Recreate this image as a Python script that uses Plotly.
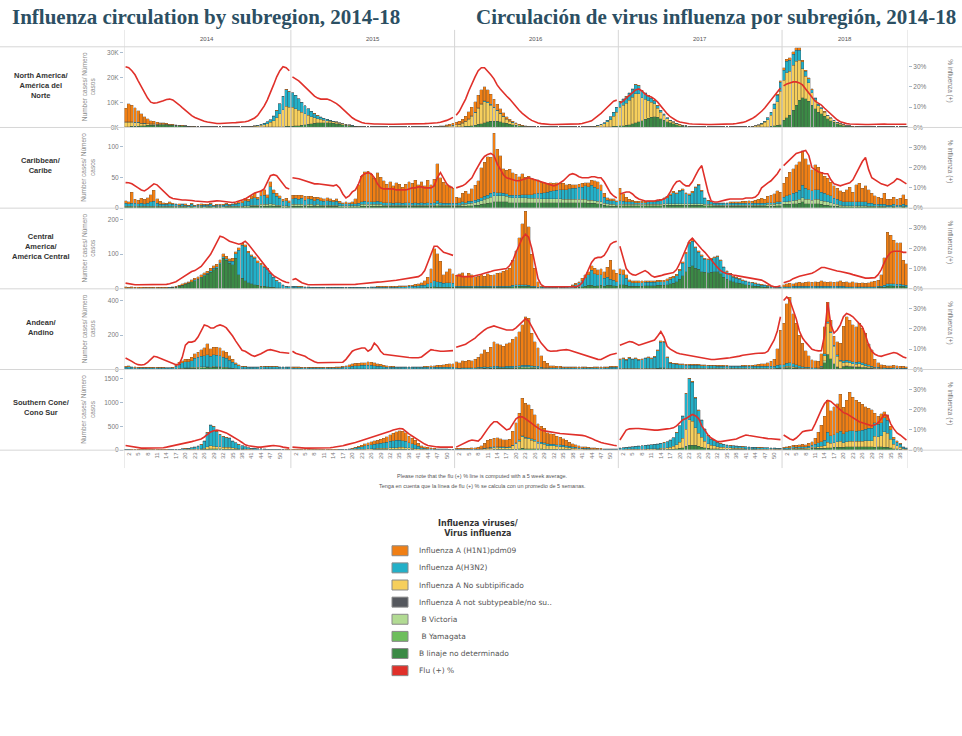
import plotly.graph_objects as go
from plotly.subplots import make_subplots

W, H = 962, 736

years = ["2014", "2015", "2016", "2017", "2018"]
weeks_per_year = [53, 52, 52, 52, 40]

region_labels = [
    "North America/<br>América del<br>Norte",
    "Caribbean/<br>Caribe",
    "Central<br>America/<br>América Central",
    "Andean/<br>Andino",
    "Southern Cone/<br>Cono Sur",
]

virus_labels = [
    "Influenza A (H1N1)pdm09",
    "Influenza A(H3N2)",
    "Influenza A No subtipificado",
    "Influenza A not subtypeable/no su..",
    " B Victoria",
    " B Yamagata",
    "B linaje no determinado",
    "Flu (+) %",
]

# ---------------- North America (thousands of cases) ----------------
na_h1n1 = [
    5.5,7.2,6.6,5.8,4.8,3.8,2.8,2.0,1.4,1.0, 0.7,0.5,0.4,0.3,0.2,0.2,0.1,0.1,0.1,0.1,
    0,0,0,0,0,0,0,0,0,0, 0,0,0,0,0,0,0,0,0,0, 0,0,0,0,0,0,0,0.1,0.1,0.1, 0.1,0.1,0.1,
    0.1,0.1,0.1,0.1,0.1,0.1,0.1,0.1,0.1,0.1, 0,0,0,0,0,0,0,0,0,0,
    0,0,0,0,0,0,0,0,0,0, 0,0,0,0,0,0,0,0,0,0, 0,0,0,0,0,0,0,0.2,0.3,0.4, 0.6,0.8,
    0.9,1.2,1.6,2.1,2.8,3.5,4.3,5.0,5.5,5.6, 4.8,3.9,3.1,2.4,1.8,1.3,0.9,0.6,0.4,0.3,
    0.2,0.1,0.1,0,0,0,0,0,0,0, 0,0,0,0,0,0,0,0,0,0, 0,0,0,0,0,0,0,0,0,0.1, 0.1,0.1,
    0.2,0.2,0.2,0.2,0.2,0.2,0.2,0.2,0.2,0.2, 0.1,0.1,0.1,0.1,0.1,0.1,0.1,0.1,0.1,0.1,
    0,0,0,0,0,0,0,0,0,0, 0,0,0,0,0,0,0,0,0,0, 0,0,0,0,0,0,0,0,0,0.3, 0.4,0.6,
    1.0,1.0,1.0,1.0,1.0,1.0,0.7,0.5,0.5,0.4, 0.3,0.2,0.1,0.1,0.1,0,0,0,0,0,
    0,0,0,0,0,0,0,0,0,0, 0,0,0,0,0,0,0,0,0,0,
]
na_h3n2 = [
    0.2,0.2,0.2,0.2,0.2,0.1,0.1,0.1,0.1,0.1, 0.1,0.1,0.1,0.1,0,0,0,0,0,0,
    0,0,0,0,0,0,0,0,0,0, 0,0,0,0,0,0,0,0,0,0, 0.1,0.2,0.3,0.4,0.6,0.8,1.2,1.8,2.8,4.0, 5.4,6.6,6.2,
    5.8,5.3,4.6,3.9,3.2,2.6,2.1,1.6,1.2,0.9, 0.7,0.5,0.4,0.3,0.2,0.2,0.1,0.1,0.1,0.1,
    0,0,0,0,0,0,0,0,0,0, 0,0,0,0,0,0,0,0,0,0, 0,0,0,0,0,0,0,0,0,0.1, 0.1,0.1,
    0.1,0.1,0.1,0.1,0.2,0.2,0.2,0.3,0.3,0.4, 0.4,0.4,0.3,0.3,0.2,0.2,0.1,0.1,0.1,0.1,
    0,0,0,0,0,0,0,0,0,0, 0,0,0,0,0,0,0,0,0,0, 0,0,0,0,0,0.2,0.3,0.5,0.8,1.1, 1.5,2.0,
    2.2,2.4,2.6,2.9,3.2,3.5,3.3,2.8,2.4,2.0, 1.6,1.3,1.0,0.7,0.5,0.3,0.2,0.1,0.1,0.1,
    0,0,0,0,0,0,0,0,0,0, 0,0,0,0,0,0,0,0,0,0, 0,0,0,0.1,0.2,0.3,0.5,0.8,1.2,1.8, 2.6,3.5,
    4.0,4.5,4.5,4.5,4.5,4.0,2.8,2.0,1.5,1.1, 0.7,0.5,0.4,0.3,0.2,0.2,0.1,0.1,0.1,0,
    0,0,0,0,0,0,0,0,0,0, 0,0,0,0,0,0,0,0,0,0,
]
na_a_nosub = [
    1.8,1.8,1.7,1.5,1.3,1.0,0.8,0.6,0.5,0.4, 0.3,0.3,0.3,0.2,0.2,0.2,0.1,0.1,0.1,0.1,
    0.1,0.1,0.1,0.1,0.1,0.1,0.1,0.1,0.1,0.1, 0.1,0.1,0.1,0.1,0.1,0.1,0.1,0.1,0.1,0.1,
    0.2,0.3,0.4,0.6,0.8,1.2,1.8,2.6,3.8,5.3, 6.8,8.2,7.8,
    7.6,7.0,6.2,5.3,4.4,3.6,2.9,2.3,1.8,1.4, 1.1,0.9,0.7,0.6,0.5,0.4,0.3,0.3,0.2,0.2,
    0.1,0.1,0.1,0.1,0.1,0.1,0.1,0.1,0.1,0.1, 0.1,0.1,0.1,0.1,0.1,0.1,0.1,0.1,0.1,0.1,
    0.1,0.1,0.1,0.1,0.1,0.1,0.2,0.2,0.2,0.3, 0.4,0.5,
    0.8,1.0,1.4,2.0,2.8,3.8,5.0,6.5,7.8,8.5, 7.8,6.6,5.4,4.3,3.3,2.5,1.8,1.3,0.9,0.6,
    0.4,0.3,0.2,0.2,0.1,0.1,0.1,0.1,0.1,0.1, 0.1,0.1,0.1,0.1,0.1,0.1,0.1,0.1,0.1,0.1,
    0.1,0.1,0.1,0.2,0.3,0.5,0.8,1.2,1.9,2.9, 4.2,5.6,
    7.5,8.2,8.8,9.8,10.7,11.8,11.2,9.2,8.1,7.0, 6.0,5.1,3.6,2.6,1.9,1.3,0.9,0.7,0.5,0.3,
    0.3,0.2,0.2,0.1,0.1,0.1,0.1,0.1,0.1,0.1, 0.1,0.1,0.1,0.1,0.1,0.1,0.1,0.1,0.1,0.1,
    0.1,0.1,0.2,0.4,0.7,1.1,1.8,2.9,4.6,6.9, 9.6,13.5,
    16.0,18.0,17.5,18.0,17.5,16.0,11.5,9.0,7.5,5.0, 3.5,2.6,2.0,1.6,1.2,1.0,0.7,0.5,0.4,0.3,
    0.2,0.2,0.2,0.1,0.1,0.1,0.1,0.1,0.1,0.1, 0.1,0.1,0.1,0.1,0.1,0.1,0.1,0.1,0.1,0.1,
]
na_b_nodet = [
    0.3,0.3,0.4,0.4,0.5,0.6,0.7,0.8,0.8,0.9, 0.9,1.0,1.0,1.0,0.9,0.9,0.8,0.7,0.6,0.5,
    0.4,0.3,0.3,0.2,0.2,0.2,0.2,0.2,0.2,0.2, 0.2,0.2,0.2,0.2,0.2,0.2,0.2,0.2,0.2,0.2,
    0.2,0.2,0.2,0.2,0.2,0.2,0.2,0.2,0.2,0.2, 0.3,0.4,0.4,
    0.5,0.6,0.7,0.9,1.1,1.3,1.5,1.7,1.8,1.9, 1.9,1.9,1.8,1.7,1.5,1.3,1.1,0.9,0.7,0.5,
    0.4,0.3,0.2,0.2,0.2,0.2,0.2,0.2,0.2,0.2, 0.2,0.2,0.2,0.2,0.2,0.2,0.2,0.2,0.2,0.2,
    0.2,0.2,0.2,0.2,0.2,0.2,0.2,0.2,0.2,0.2, 0.2,0.2,
    0.2,0.2,0.3,0.4,0.5,0.7,0.9,1.2,1.5,1.9, 2.2,2.4,2.5,2.4,2.2,1.9,1.6,1.3,1.0,0.8,
    0.6,0.4,0.3,0.2,0.2,0.2,0.2,0.2,0.2,0.2, 0.2,0.2,0.2,0.2,0.2,0.2,0.2,0.2,0.2,0.2,
    0.2,0.2,0.2,0.2,0.2,0.2,0.2,0.2,0.3,0.3, 0.4,0.5,
    0.6,0.7,0.9,1.1,1.4,1.8,2.3,2.8,3.3,3.8, 4.2,4.4,4.2,3.6,3.0,2.3,1.8,1.4,1.0,0.7,
    0.5,0.4,0.3,0.2,0.2,0.2,0.2,0.2,0.2,0.2, 0.2,0.2,0.2,0.2,0.2,0.2,0.2,0.2,0.2,0.2,
    0.2,0.2,0.2,0.2,0.2,0.2,0.2,0.3,0.4,0.6, 0.8,1.1,
    3.0,4.0,5.0,7.0,9.0,11.0,12.0,11.5,10.5,9.0, 7.5,6.2,5.5,4.5,3.5,2.8,2.1,1.4,1.0,0.7,
    0.5,0.4,0.3,0.3,0.2,0.2,0.2,0.2,0.2,0.2, 0.2,0.2,0.2,0.2,0.2,0.2,0.2,0.2,0.2,0.2,
]
na_flu_pct = [
    30,29.5,28,26,23,20,17,14.5,12.5,12, 12.2,12.6,13.2,13.8,14,13.6,12.6,11.2,9.8,8.4,
    7.0,5.8,4.9,4.2,3.6,3.1,2.7,2.4,2.2,2.0, 2.0,2.0,2.1,2.2,2.3,2.4,2.5,2.6,2.8,3.2,
    3.8,4.7,6.0,8.0,10.5,13.5,17,21,25,28, 30,29.5,28,
    25,24,23,21.5,20,18.5,17,15.5,14.5,14, 14,14,13.5,12.8,11.8,10.5,9,7.5,6,4.8,
    3.8,3.0,2.5,2.1,1.9,1.8,1.7,1.7,1.6,1.6, 1.6,1.6,1.6,1.6,1.7,1.7,1.7,1.7,1.8,1.8,
    1.8,1.8,1.9,2.0,2.0,2.1,2.3,2.6,3.0,3.5, 4.2,5.0,
    6,8,11,14,18,22,25,28,29.5,29.5, 28,26,24,21,19,17,15.5,14,12,10,
    8.5,7,5.5,4.5,3.5,2.7,2.2,1.9,1.7,1.6, 1.5,1.5,1.5,1.5,1.5,1.5,1.5,1.5,1.6,1.8,
    2.0,2.3,2.8,3.3,4.5,5.5,7,8.5,10,12, 13,13.5,
    12,13,14.5,16,17.5,18.5,19,18,16.5,15.5, 15,14,12.5,10.5,8.5,6.8,5.3,4.2,3.3,2.7,
    2.3,2.0,1.8,1.7,1.6,1.6,1.5,1.5,1.5,1.5, 1.5,1.5,1.5,1.6,1.6,1.7,1.8,2.0,2.2,2.5,
    3.0,3.6,4.4,5.4,6.6,8.0,9.6,11.5,13.5,15.5, 17.5,19.5,
    20.5,21.5,22,22.5,22.5,22,21,19,16.5,14.5, 13,12,11,9.5,8,6.5,5,3.8,2.8,2.2,
    1.9,1.7,1.6,1.6,1.5,1.5,1.5,1.5,1.6,1.6, 1.6,1.7,1.7,1.6,1.6,1.7,1.8,1.7,1.6,1.6,
]

# ---------------- Caribbean ----------------
car_h1n1 = [
    4,3,18,6,6,8,7,9,12,18, 7,5,3,2,3,2,1,2,1,2, 1,2,1,1,2,1,1,2,1,1,
    1,1,2,1,1,2,2,3,4,3, 5,7,4,8,9,5,8,6,5,4, 3,4,3,
    6,5,7,5,6,4,5,6,4,5, 4,5,4,3,4,3,2,3,2,3, 8,30,42,48,50,45,38,46,40,35,
    30,34,28,32,30,26,30,34,32,36, 30,34,28,36,30,38,60,40,34,30, 28,24,
    10,8,14,18,12,20,24,30,48,55, 62,58,95,70,60,40,38,42,36,34, 30,34,28,30,26,24,22,18,16,14,
    14,12,12,10,10,8,8,6,6,5, 6,5,6,8,10,12,10,6,4,3, 3,2,
    20,12,8,4,3,2,2,2,2,2, 2,2,2,2,2,2,2,2,2,2, 2,2,2,2,2,2,2,1,1,1,
    1,1,1,1,1,2,2,2,2,3, 3,4,3,5,6,8,6,10,12,14, 18,16,
    22,30,36,40,44,46,56,48,40,34, 40,36,32,28,26,22,20,18,16,16,
    20,24,16,28,30,22,26,22,16,14, 12,10,18,9,9,12,9,11,16,9,
]
car_h3n2 = [
    5,4,5,5,4,5,4,5,7,8, 5,3,3,3,4,3,3,2,3,2, 2,3,2,2,2,3,2,3,2,2,
    2,3,3,2,3,3,5,6,8,7, 10,12,9,14,15,11,28,18,14,11, 7,8,6,
    9,10,8,10,8,9,8,7,8,7, 6,7,6,5,6,4,3,3,3,3, 3,4,4,5,4,4,4,5,4,4,
    4,4,3,4,4,3,4,4,3,4, 3,4,3,4,3,4,5,4,3,3, 3,3,
    3,4,4,3,4,3,4,4,5,5, 5,6,6,5,5,4,4,3,4,4, 4,5,5,6,6,7,8,9,10,11,
    12,13,14,15,16,16,17,18,18,20, 20,22,22,24,22,20,18,10,6,6, 6,5,
    6,5,4,4,4,3,3,3,3,4, 4,4,5,6,8,10,14,18,16,20, 22,16,14,18,26,30,20,10,6,4,
    3,3,3,3,3,3,3,3,3,3, 3,3,3,3,3,3,3,3,3,3, 3,3,
    8,10,11,12,13,15,20,18,16,15, 16,16,14,13,12,11,9,8,7,6,
    6,6,6,6,6,6,6,5,5,3, 3,3,3,3,3,3,3,3,3,3,
]
car_b_vic = [
    1,1,1,1,1,1,1,1,1,1, 1,1,1,1,1,1,1,1,1,1, 1,1,1,1,1,1,1,1,1,1,
    1,1,1,1,1,1,1,1,2,2, 2,2,2,3,3,3,3,3,2,2, 2,2,1,
    3,3,3,3,2,3,3,2,3,2, 2,2,2,2,2,2,2,2,2,2, 2,2,3,3,3,3,3,3,3,2,
    2,2,2,2,2,2,2,2,2,2, 2,2,2,2,2,2,3,2,2,2, 2,2,
    2,2,3,3,3,4,4,5,6,7, 8,9,10,10,10,10,9,9,8,8, 8,8,8,7,7,7,7,6,6,6,
    6,6,6,6,5,5,5,5,5,5, 5,5,5,5,4,4,4,3,3,3, 3,2,
    2,2,2,2,2,2,2,2,2,2, 2,2,2,2,2,2,2,2,2,2, 2,2,2,2,2,2,2,2,2,2,
    2,2,2,2,2,2,2,2,2,2, 2,2,2,2,2,2,2,3,3,3, 3,3,
    4,4,5,5,6,6,7,7,7,6, 7,7,6,6,5,5,4,3,3,2,
    2,2,2,2,2,2,2,1,1,1, 1,1,1,1,1,1,1,1,1,1,
]
car_b_nodet = [
    2,2,2,2,2,2,2,2,2,2, 2,2,2,2,2,2,2,2,2,2, 1,2,1,2,2,1,2,2,1,2,
    2,1,2,2,2,2,2,2,2,2, 3,3,3,3,3,3,4,3,3,3, 2,2,2,
    3,3,3,3,3,3,3,3,3,3, 3,3,3,3,3,2,2,2,2,2, 2,2,3,3,3,3,3,3,3,3,
    3,3,3,3,3,3,3,3,3,3, 3,3,3,3,3,3,4,3,3,3, 3,3,
    3,3,3,3,4,4,5,5,6,7, 8,9,10,10,10,10,10,9,9,9, 9,9,9,9,9,9,9,9,9,9,
    9,9,9,9,9,9,9,9,9,9, 9,9,8,8,8,7,6,5,4,3, 3,3,
    4,4,4,4,4,4,4,4,4,4, 4,4,4,4,5,5,5,5,5,5, 5,5,5,5,5,5,5,4,4,4,
    3,3,3,3,3,3,3,3,3,3, 3,3,3,3,3,3,3,3,3,3, 4,4,
    6,6,6,7,7,8,10,7,7,7, 7,7,6,5,5,4,3,3,2,2,
    2,2,2,2,2,2,2,2,2,2, 2,2,2,1,1,2,1,1,2,1,
]
car_flu_pct = [
    12.6,12.5,12,11.2,10,9,8.5,9.5,11,12, 11.5,10,8.5,7,5.5,4.8,4.5,4.3,4,4,
    4,3.8,3.5,3.3,3.2,3,3,3.2,3.5,3.6, 3.5,3.3,3,2.8,2.8,3,3.5,4,4.5,5.5,
    6.5,7.5,8,8.5,9.5,13,16,16.5,16,14, 12,10,9.5,
    15,14.8,14.5,14,13.5,13,12.5,12,12,11.8, 11.5,11.2,11,11,11.5,10,7,5,6,8,
    9,12,16,17,17.5,17,15,12,10,9.5, 9.5,9.5,9.5,9,9,9,9,9.5,10,10,
    10.5,10.5,10,10,10,11,15,17.5,15,12, 10.5,10,
    10,10.5,11,12,13.5,15,18,21,23.5,25.5, 26.5,27,26,22,19,16.5,15,14.5,14,13.5,
    13.5,14,14.5,15,14.5,14,13.5,13,12.5,12, 11.5,11,11.5,12.5,13.5,15,16.5,17,16.5,15.5,
    15,15,15,15.5,15.5,15,15,13,10,7.5, 6,5,
    7,7.5,8,8,7,5.5,4.5,4,3.5,3.5, 3.5,3.5,4,4,4.5,5.5,8,11,13,13.5,
    12,11,11,13,16,19,21,15,8,3.5, 3,3,3.5,4,4.2,4.5,4.5,4.5,4.5,4.5,
    5,5,5,5.5,7,10,11.5,12.5,13.5,15, 17,19.5,
    21,22.5,24,25.5,27,27.5,28,28.5,26,20, 19,18,17.5,17,17,14,12,11.5,11,11.5,
    12,12.5,14,17,20,23,25,19,15,14, 13,12,11.5,11,12,13,14.5,14,13,12,
]

# ---------------- Central America ----------------
ca_h1n1 = [
    3,2,3,2,2,2,1,1,1,1, 1,1,1,1,1,1,2,2,3,3, 4,5,5,6,7,6,6,7,8,7,
    8,9,7,7,8,5,6,6,5,5, 5,5,5,4,4,3,2,1,1,1, 1,1,0,
    1,1,1,1,1,1,1,1,1,1, 1,1,1,1,1,1,1,1,1,1, 1,1,1,1,1,1,1,2,2,2,
    2,2,2,2,3,3,3,4,4,5, 6,8,12,20,40,92,80,60,24,32, 40,28,
    32,36,40,30,38,34,28,30,34,30, 36,32,34,38,40,44,48,52,72,98, 136,176,212,168,92,52,16,4,2,2,
    1,1,1,1,1,1,2,3,4,4, 6,8,10,14,16,14,18,20,28,54, 30,24,
    16,15,10,6,6,6,5,5,5,5, 5,5,5,5,5,5,5,5,4,4, 4,4,5,6,4,4,4,3,3,3,
    3,3,3,2,2,2,2,2,2,2, 2,2,2,2,2,2,2,2,2,2, 2,2,
    6,8,10,8,10,12,10,12,14,12, 14,12,16,14,12,14,12,14,16,12,
    14,12,14,12,10,12,10,12,14,16, 18,32,80,150,140,126,120,120,70,62,
]
ca_h3n2 = [
    1,1,1,1,1,1,1,1,1,1, 1,1,1,1,1,1,1,1,1,1, 1,1,2,2,2,3,3,4,4,4,
    4,5,5,6,10,14,72,96,98,86, 80,76,66,62,56,50,40,30,21,14, 9,5,4,
    4,4,3,3,3,3,2,2,2,2, 2,2,2,2,2,2,2,2,2,2, 2,2,2,2,2,3,3,3,3,3,
    3,3,3,3,4,4,4,5,5,6, 6,7,8,10,14,18,16,14,12,14, 14,12,
    3,3,3,3,3,3,3,3,3,3, 3,3,3,3,3,3,3,3,4,4, 4,4,4,4,3,3,2,2,2,2,
    2,2,2,2,2,3,4,6,8,12, 18,24,30,42,36,32,30,22,24,18, 16,14,
    30,28,20,12,10,10,10,10,10,10, 10,10,10,10,10,12,14,16,18,24, 36,52,68,72,58,50,44,38,38,38,
    40,43,37,28,22,19,14,13,12,10, 10,9,8,7,6,5,5,4,3,3, 2,2,
    3,3,3,4,4,4,4,4,4,4, 4,4,4,4,4,4,4,4,4,4,
    3,3,3,3,3,3,3,3,3,3, 3,4,5,6,6,6,6,6,5,5,
]
ca_b_nodet = [
    2,2,2,2,1,1,2,2,2,2, 2,2,2,2,3,4,5,8,10,13, 16,20,24,27,32,38,42,48,55,60,
    72,88,82,74,70,88,40,30,24,18, 14,12,10,8,7,6,5,4,3,3, 2,2,2,
    3,3,3,3,2,2,2,2,2,2, 2,2,2,2,2,2,2,2,2,2, 2,2,2,2,2,2,2,2,2,2,
    2,2,2,2,2,2,2,2,2,2, 3,3,3,4,4,6,5,5,4,4, 4,4,
    4,4,4,4,4,4,4,4,4,4, 4,4,4,4,4,4,4,4,6,8, 8,8,8,7,5,5,3,2,2,2,
    2,2,2,2,2,2,2,3,4,5, 6,8,10,11,8,9,10,8,10,10, 9,7,
    12,12,10,8,8,8,8,8,9,9, 9,9,10,10,10,12,14,16,20,28, 38,50,62,66,60,56,50,48,46,48,
    50,50,44,34,28,24,20,18,16,14, 12,10,9,8,7,6,5,4,3,3, 2,2,
    3,3,3,3,3,3,3,3,3,3, 3,3,3,3,3,3,3,3,3,3,
    3,3,3,3,3,3,3,3,3,3, 4,4,5,8,9,8,7,7,7,6,
]
ca_flu_pct = [
    2.8,2.5,2.2,2,2,2,1.9,1.9,2,2, 2,2,2.1,2.2,2.5,3,3.5,4.5,5.5,6.5,
    7.5,8.5,9,10,11,13,15,17,20,23, 26,25.5,24.5,23.5,23,22.5,22,22.5,23.5,22,
    20,18,16,14,11.5,9.5,8,6.5,5.5,4.5, 3.8,3.2,3,
    4.5,5,4,3,2.5,2,2,2,2,2, 2,2,2,2,2,2,2,2,2,2,
    2.2,2.4,2.6,2.8,3,3,3.2,3.3,3.4,3.5, 3.6,3.8,4,4.2,4.5,4.8,5,5.3,5.6,5.8,
    6,7,9,13,17,21,21,19.5,18,17.5, 17,16.5,
    6.5,6.5,6,6,6,6,6.5,6.7,7.2,7.7, 8,8.5,9,9.3,9.6,9.8,10,11.5,14,18,
    22,25,27,25.5,20,12,5,2,1,1, 1,1,1,1,1,1,1,1,1,1.5,
    3,6,9.5,13,15,15.5,15.5,16.5,19,22, 23,23.5,
    21,15,10,8,7,6.7,7.5,8.5,9,8, 6.5,5.8,6,6.5,7,7.5,7.7,8,9.5,12.5,
    16,20,23.5,25,23,21,19.5,18,16,14, 12,10.5,9,8,7.5,7,6.8,6.5,6.2,6,
    5.8,5.5,5.3,5,4.6,4.3,3.5,2.5,1.5,1, 1,1.5,
    3,3.4,4,5,5.8,6.2,6.6,7,7.4,7.7, 8.5,9.5,10.5,10.5,10,9.5,9,8.8,8.5,8.2,
    8,7.5,7,6.5,6,5.5,5.3,5.3,5.3,5.5, 7,9.5,13,16,18,18.5,18.5,18.5,18,18,
]

# ---------------- Andean ----------------
andean_h1n1 = [
    6,6,4,4,3,3,3,3,3,3, 3,3,3,2,2,2,6,10,14,16, 14,18,24,30,38,44,64,42,44,46,
    44,38,34,26,18,10,6,4,3,3, 3,3,3,3,3,3,3,3,3,3, 3,3,3,
    4,4,4,3,3,3,3,3,3,3, 3,3,3,3,4,5,6,8,10,12, 14,14,16,16,18,18,16,14,12,10,
    8,6,6,5,5,5,5,5,5,5, 5,5,6,6,8,8,10,12,14,16, 18,20,
    36,32,40,38,45,42,48,58,76,98, 86,114,144,132,126,118,132,136,156,170,
    196,236,280,272,190,140,108,66,36,24, 14,12,10,10,8,8,8,7,7,6, 6,6,5,5,5,5,5,5,6,6, 6,6,
    6,6,5,5,5,5,5,5,5,5, 5,5,6,8,8,6,5,5,5,5, 5,5,5,5,5,5,5,5,5,5,
    5,5,5,5,5,5,5,5,5,6, 6,6,8,10,12,14,16,20,30,40, 96,200,
    240,345,380,292,240,178,135,96,68,48, 40,36,70,158,114,66,50,75,97,200,
    250,236,214,205,222,200,176,122,94,46, 26,18,15,14,14,15,14,12,11,10,
]
andean_h3n2 = [
    10,12,10,8,8,6,6,6,8,8, 8,8,6,6,6,8,14,24,30,34, 34,40,52,56,62,66,70,64,68,66,
    64,58,52,44,34,24,16,12,12,10, 10,10,10,12,12,12,12,12,12,10, 10,10,10,
    8,8,8,6,6,6,6,6,6,6, 6,6,6,6,8,8,10,12,14,16, 18,18,20,20,22,20,18,16,14,12,
    10,10,8,8,8,8,8,8,8,8, 8,8,10,10,10,10,10,10,10,10, 10,10,
    5,4,5,5,5,5,5,6,7,8, 7,8,8,8,8,8,8,8,8,8, 9,9,9,9,8,8,7,6,5,5,
    5,5,5,5,5,5,5,5,5,5, 5,5,5,5,6,6,6,7,7,8, 8,9,
    50,55,48,60,52,56,48,50,58,62, 56,66,100,150,148,60,30,26,24,22, 22,20,20,18,18,18,16,16,15,15,
    15,14,14,13,13,12,12,12,12,12, 12,12,12,12,12,12,12,12,12,14, 16,18,
    14,18,20,16,14,12,10,8,6,5, 5,5,6,10,8,8,8,8,8,10,
    12,12,12,12,12,12,12,10,8,6, 5,4,4,3,3,4,3,3,3,2,
]
andean_a_nosub_2018 = [
    5,6,6,5,4,3,2,2,2,1, 1,1,4,30,181,150,100,60,40,20,
    20,18,16,15,16,14,10,8,5,3, 2,2,1,1,1,1,1,1,1,1,
]
andean_b_vic = [
    1,1,1,1,1,1,1,1,1,1, 1,1,1,1,1,1,2,3,3,4, 4,5,6,5,5,5,4,4,6,4,
    5,4,4,2,2,1,1,1,1,1, 1,1,1,1,1,1,1,1,1,1, 1,1,1,
    1,1,1,1,1,1,1,1,1,1, 1,1,1,1,1,1,1,1,1,1, 1,1,1,1,1,1,1,1,1,1,
    1,1,1,1,1,1,1,1,1,1, 1,1,1,1,1,1,1,1,1,1, 1,1,
    1,1,1,1,1,1,1,1,2,2, 2,2,3,3,3,3,3,3,3,4, 5,5,6,6,5,4,4,3,2,2,
    1,1,1,1,1,1,1,1,1,1, 1,1,1,1,1,1,1,1,1,1, 1,1,
    2,2,2,2,2,2,2,2,2,2, 2,2,2,2,2,2,2,2,2,2, 2,2,2,2,2,2,2,2,2,2,
    2,2,2,2,2,2,2,2,2,2, 2,2,2,2,2,2,2,2,2,2, 2,2,
    3,4,4,3,3,2,1,1,1,1, 1,1,2,10,2,0,0,3,2,4,
    5,4,4,4,4,3,3,2,1,1, 1,1,1,1,1,1,1,1,1,1,
]
andean_b_nodet = [
    2,2,2,2,2,2,2,2,2,2, 2,2,2,2,2,2,3,4,5,6, 6,7,8,9,10,10,12,10,12,12,
    12,10,10,8,6,5,4,3,3,3, 3,3,3,3,3,3,3,3,3,3, 3,3,3,
    2,2,2,2,2,2,2,2,2,2, 2,2,2,2,2,2,2,2,2,3, 3,3,3,3,3,3,3,3,3,3,
    3,3,3,3,3,3,3,3,3,3, 3,3,3,3,3,3,3,3,3,3, 3,3,
    3,3,4,4,4,4,4,5,5,6, 5,6,7,7,6,6,7,7,8,8, 9,10,10,10,8,8,7,5,4,4,
    3,3,3,3,3,3,3,3,3,3, 3,3,3,3,3,3,3,3,3,3, 3,3,
    4,4,4,4,4,4,4,4,4,4, 4,4,6,7,7,5,4,4,4,4, 4,4,4,4,4,4,4,4,4,4,
    4,4,4,4,4,4,4,4,4,4, 4,4,4,4,4,4,4,4,4,4, 6,8,
    5,8,9,8,6,5,4,3,3,2, 3,4,8,40,85,62,34,14,5,16,
    18,16,14,12,13,11,9,8,6,4, 4,3,3,3,3,3,3,3,2,2,
]
andean_flu_pct = [
    5.7,5,4,3,2.4,2.2,2.5,3.5,5,6.5, 6.2,5.5,4.8,4.2,3.6,3,2.4,2.5,6,12,
    13.5,13.5,14,16,19,22,21.5,20.5,20.5,21.5, 22,21.5,20.5,18.7,16.5,14,11.5,9.5,9,8,
    7,6.5,7,7.8,8.6,9.5,9.8,9.5,9,8.5, 8.3,8.2,8,
    9,8,7.5,7,6.5,5.5,4.5,3.8,3.3,3.3, 3.3,3.3,3.3,3.3,3.3,3.4,3.6,5,7,9,
    9.8,10.2,10.6,10.6,9,10,13,11.5,9,7.5, 7.3,7,6.8,6.5,6.3,6,6,5.9,5.8,5.7,
    5.8,6.2,7.5,8.8,9.8,9.5,9.2,9,9,9.2, 9.3,9.3,
    11,11.5,12,12.5,13.5,14.5,15.5,17,18.5,19.5, 20.5,21,21.5,21,20.5,20,19.5,19.5,19.5,20.5,
    22,24,25,24,21,18,15.5,13,11,9.5, 9,9,9.2,9.5,9.8,9.8,9.5,9,8.5,8,
    7.5,7,6.5,6,5.5,5,4.9,5.5,6.5,7.3, 7.8,8,
    12,12.5,13,13.8,13.5,12.8,12,12.5,13,13.5, 13.8,14.5,16.5,18.7,16,11.4,10,9,8.3,7.8,
    7.5,7.3,7,6.7,6.4,6.2,6,5.6,5.2,4.9, 4.9,5,5.2,5.4,5.6,5.8,6,6.2,6.6,7,
    7.3,7.5,7.7,7.9,8,8.1,8.1,9,11.5,14.6, 19,26,
    34,35.8,34,30,25,19,15.5,13.5,11.5,10, 9.5,9.2,9.3,17,33,22,18,19.5,22,26,
    27.6,27,26,24.5,22.5,21,17,12,9,7.5, 6.8,6.5,7,7.5,8,8.4,8,7,6.2,5.7,
]

# ---------------- Southern Cone ----------------
sc_h1n1 = [
    2,2,2,2,2,2,2,2,2,2, 2,2,2,2,2,2,2,2,3,3, 4,5,6,7,8,10,14,16,14,14,
    12,10,10,10,8,6,5,4,3,3, 2,2,2,2,2,2,2,2,2,2, 2,2,2,
    2,2,2,2,2,2,2,2,2,2, 2,2,2,2,3,3,3,4,6,10, 16,22,30,40,50,58,66,74,88,100,
    116,142,160,178,200,200,185,146,120,94, 66,38,28,22,18,15,12,10,9,8, 7,6,
    20,22,24,26,28,30,34,40,66,100, 150,165,185,185,170,155,150,165,290,420,
    560,780,710,690,610,520,380,340,310,240, 220,210,180,160,140,110,85,65,50,38,
    30,26,22,20,18,16,14,12,10,10, 9,8,
    4,4,4,4,4,4,4,4,4,4, 4,4,4,4,4,4,4,4,4,4, 6,12,17,20,17,15,12,10,7,6,
    6,6,6,6,6,6,6,6,6,6, 5,5,5,5,5,5,5,5,5,5, 5,5,
    20,24,28,40,36,40,44,40,56,80, 130,220,340,500,670,520,580,610,780,560,
    660,800,700,640,600,540,470,420,380,200, 170,190,127,110,70,40,30,20,10,8,
]
sc_h3n2 = [
    8,8,7,7,6,6,6,6,6,6, 6,6,7,7,8,9,10,12,16,20, 26,32,42,56,84,150,290,430,400,310,
    255,215,200,190,140,110,80,60,44,32, 26,22,18,16,14,12,10,10,8,8, 8,7,6,
    6,6,6,6,5,5,5,5,5,5, 5,5,5,6,6,7,8,10,14,22, 34,44,54,70,78,86,94,98,106,110,
    120,136,146,150,150,140,128,104,90,74, 56,36,28,22,18,15,13,11,10,9, 8,8,
    6,6,6,6,6,6,6,6,8,10, 12,14,14,15,14,14,12,12,16,20, 24,30,30,30,30,30,30,32,32,32,
    34,36,36,34,32,32,30,28,22,20, 18,16,14,12,12,10,10,9,9,8, 8,8,
    30,36,42,48,54,60,64,70,74,80, 84,88,94,104,116,126,150,180,250,340,
    460,740,850,820,620,470,360,250,170,130, 110,90,74,64,56,50,46,42,40,38,
    36,34,32,30,30,28,26,26,24,22, 20,20,
    20,22,24,30,28,30,34,32,36,44, 56,80,100,120,200,160,170,190,210,180,
    200,220,220,210,220,230,240,260,260,280, 260,270,300,280,200,110,80,60,32,22,
]
sc_a_nosub = [
    2,2,2,2,2,2,2,2,2,2, 2,2,2,2,2,2,3,3,4,5, 6,7,9,11,14,22,46,60,56,48,
    42,38,36,34,28,22,18,14,11,9, 7,6,5,4,4,3,3,3,2,2, 2,2,2,
    2,2,2,2,2,2,2,2,2,2, 2,2,2,2,2,2,3,3,4,5, 7,9,10,13,15,16,18,20,22,24,
    26,30,32,34,38,38,36,30,26,22, 16,11,8,6,5,4,4,3,3,3, 3,3,
    4,4,4,5,5,5,6,6,12,20, 30,32,38,42,40,38,38,40,70,110, 160,240,210,200,180,160,118,105,95,75,
    70,68,60,56,50,45,38,30,25,20, 16,14,12,10,9,8,7,6,6,5, 5,5,
    4,5,6,7,8,9,10,11,12,14, 16,18,20,24,28,34,44,58,86,130, 200,360,540,500,370,270,200,140,90,70,
    60,50,42,36,32,28,25,22,20,18, 16,15,14,13,12,12,11,10,10,9, 9,8,
    6,8,10,12,12,14,15,14,16,18, 24,30,40,47,120,90,100,112,120,100,
    110,120,117,120,115,120,125,130,130,230, 210,230,320,290,180,90,60,40,18,12,
]
sc_b_nodet = [
    4,4,4,4,4,4,4,4,4,4, 4,4,4,4,4,5,5,6,7,8, 9,10,12,13,15,18,24,30,30,28,
    26,24,24,24,22,20,16,14,12,10, 8,7,6,6,5,5,5,4,4,4, 4,4,4,
    5,5,5,5,5,5,5,5,5,5, 5,5,5,5,5,5,5,6,6,7, 8,9,10,11,12,13,14,15,16,16,
    17,18,18,19,20,20,18,16,14,12, 10,8,7,6,5,5,5,5,5,5, 5,5,
    6,6,6,6,6,6,6,6,8,10, 12,12,14,14,14,14,14,14,18,24, 30,36,34,34,32,30,28,26,24,22,
    20,20,18,18,16,15,14,13,12,11, 10,10,9,9,8,8,7,7,6,6, 6,6,
    8,8,9,9,10,10,11,11,12,12, 13,13,14,15,16,16,18,22,30,40, 50,80,100,100,100,85,65,50,40,32,
    30,26,22,20,18,18,18,18,18,18, 18,16,14,14,12,12,12,10,10,10, 10,10,
    14,16,18,25,24,26,27,24,32,38, 40,43,40,40,50,50,57,61,63,60,
    70,67,70,70,72,70,72,70,70,63, 67,70,60,60,50,33,30,20,13,8,
]
sc_flu_pct = [
    2.3,2,1.8,1.5,1.2,1,1,1,1,1, 1,1,1.2,1.5,1.8,2.3,2.5,2.8,3.1,3.4,
    3.8,4.2,4.6,5,5.5,6.5,8,9,9.6,9.9, 9.6,9.1,8.5,7.6,6.8,5.9,4.8,3.8,2.6,2.2,
    1.9,1.7,1.5,1.5,1.6,1.8,2.1,2.3,2.2,1.9, 1.5,1.2,1,
    1.5,1.3,1.1,1,1,1,1,1,1,1, 1,1,1.2,1.4,1.6,1.9,2.2,2.6,2.9,3.3,
    3.8,4.3,4.8,5,5.5,6,6.7,7.2,7.7,8.3, 8.8,9.3,9.9,10.3,10.7,10.5,9.1,8,7,5.9,
    4.8,3.8,3,2.3,2,1.8,1.6,1.5,1.5,1.5, 1.5,1.5,
    1.5,2.3,3,3.8,4.5,5,4.8,4.5,6,8.5, 10.5,12.5,14,14,12.5,11,10,10.5,13,15.5,
    16.4,16.4,15.5,14.5,13.2,12,11,9.9,9.5,9.2, 8.9,8.6,8.3,8.2,8.1,8,7.9,7.8,7.6,7.5,
    7.3,7,6.5,5.8,5,4.2,3.8,3.4,3,2.6, 2.4,2.2,
    5,7.5,9.9,10.5,10.7,10.7,10.7,10.5,10.3,10.1, 10,9.9,9.9,10,10.3,10.5,10.7,11,12,13.5,
    15,15.6,16.5,17.6,17,15.6,12,9.5,7.5,6, 5,4.2,4.2,4.4,4.6,4.8,5,5.5,6.2,7,
    7.5,7.2,6.9,6.7,6.4,6.1,5.9,5.7,5.6,5.5, 5.4,5.2,
    7.5,6.5,5.5,5,6,7.5,9.1,9.5,9.8,9.9, 13,17,20,23,24.5,24,22.5,21.5,20,18.5,
    18,17,16,15,14,13.5,13,12.5,12,12.5, 13.5,15.5,17.5,17,13,10.5,8.5,7.5,6,5,
]

# ---------------- chart setup ----------------
colors = {
    "h1n1": "#f07f14",
    "h3n2": "#22b0c8",
    "a_nosub": "#f6cf5c",
    "a_nst": "#55585e",
    "b_vic": "#b2db93",
    "b_yam": "#6dbe5c",
    "b_nodet": "#3b8a45",
    "flu": "#e0302a",
}
legend_keys = ["h1n1", "h3n2", "a_nosub", "a_nst", "b_vic", "b_yam", "b_nodet", "flu"]

year_start = []
total = 0
for n in weeks_per_year:
    year_start.append(total)
    total += n
n_weeks = total

# (series key, values, first year index); listed bottom of stack first
regions = [
    dict(bars=[("b_nodet", na_b_nodet, 0), ("a_nosub", na_a_nosub, 0),
               ("h3n2", na_h3n2, 0), ("h1n1", na_h1n1, 0)],
         flu=na_flu_pct, ymax=32.4, tickvals=[0, 10, 20, 30],
         ticktext=["0K", "10K", "20K", "30K"]),
    dict(bars=[("b_nodet", car_b_nodet, 0), ("b_vic", car_b_vic, 0),
               ("h3n2", car_h3n2, 0), ("h1n1", car_h1n1, 0)],
         flu=car_flu_pct, ymax=130.6, tickvals=[0, 50, 100],
         ticktext=["0", "50", "100"]),
    dict(bars=[("b_nodet", ca_b_nodet, 0), ("h3n2", ca_h3n2, 0), ("h1n1", ca_h1n1, 0)],
         flu=ca_flu_pct, ymax=233, tickvals=[0, 100, 200],
         ticktext=["0", "100", "200"]),
    dict(bars=[("b_nodet", andean_b_nodet, 0), ("b_vic", andean_b_vic, 0),
               ("a_nosub", andean_a_nosub_2018, 4), ("h3n2", andean_h3n2, 0),
               ("h1n1", andean_h1n1, 0)],
         flu=andean_flu_pct, ymax=468, tickvals=[0, 200, 400],
         ticktext=["0", "200", "400"]),
    dict(bars=[("b_nodet", sc_b_nodet, 0), ("a_nosub", sc_a_nosub, 0),
               ("h3n2", sc_h3n2, 0), ("h1n1", sc_h1n1, 0)],
         flu=sc_flu_pct, ymax=1687, tickvals=[0, 500, 1000, 1500],
         ticktext=["0", "500", "1000", "1500"]),
]

for i, reg in enumerate(regions):
    for key, vals, y0 in reg["bars"]:
        expected = n_weeks - year_start[y0]
        if len(vals) != expected:
            raise ValueError(f"region {i} {key}: {len(vals)} != {expected}")
    if len(reg["flu"]) != n_weeks:
        raise ValueError(f"region {i} flu: {len(reg['flu'])}")


def px(x):
    return x / W


def py(y):
    return 1 - y / H


ROW_TOP, ROW_H = 47, 81
PLOT_L, PLOT_R = 124, 908
PCT_MAX = 39.8

fig = make_subplots(rows=5, cols=1, shared_xaxes=True, vertical_spacing=0,
                    specs=[[{"secondary_y": True}] for _ in range(5)])

for r, reg in enumerate(regions, start=1):
    for key, vals, y0 in reg["bars"]:
        start = year_start[y0]
        fig.add_trace(
            go.Bar(
                x=list(range(start, start + len(vals))), y=vals,
                marker=dict(color=colors[key],
                            line=dict(color="rgba(70,70,70,0.55)", width=0.5)),
                showlegend=False, hoverinfo="skip",
            ),
            row=r, col=1, secondary_y=False,
        )
    # flu % line, broken between years
    lx, ly = [], []
    for s, n in zip(year_start, weeks_per_year):
        lx += list(range(s, s + n)) + [None]
        ly += reg["flu"][s:s + n] + [None]
    fig.add_trace(
        go.Scatter(x=lx, y=ly, mode="lines", connectgaps=False,
                   line=dict(color=colors["flu"], width=1.6),
                   showlegend=False, hoverinfo="skip"),
        row=r, col=1, secondary_y=True,
    )

    top = ROW_TOP + ROW_H * (r - 1)
    dom = [py(top + ROW_H), py(top)]
    axis_style = dict(showgrid=False, zeroline=False, showline=False,
                      ticks="outside", ticklen=3, tickcolor="#a9bccf",
                      tickfont=dict(size=6.5, color="#7a7a7a", family="Liberation Sans"))
    fig.update_yaxes(domain=dom, range=[0, reg["ymax"]], tickvals=reg["tickvals"],
                     ticktext=reg["ticktext"], row=r, col=1, secondary_y=False,
                     **axis_style)
    fig.update_yaxes(domain=dom, range=[0, PCT_MAX], tickvals=[0, 10, 20, 30],
                     ticktext=["0%", "10%", "20%", "30%"], row=r, col=1,
                     secondary_y=True, **axis_style)

# week ticks on bottom row
tick_pos, tick_txt = [], []
for s, n in zip(year_start, weeks_per_year):
    for wk in range(2, min(n, 50) + 1, 3):
        tick_pos.append(s + wk - 1)
        tick_txt.append(str(wk))

fig.update_xaxes(domain=[px(PLOT_L), px(PLOT_R)], range=[-0.5, n_weeks - 0.5],
                 showgrid=False, zeroline=False, showline=False, ticks="")
fig.update_xaxes(showticklabels=True, tickvals=tick_pos, ticktext=tick_txt,
                 tickangle=-90, tickfont=dict(size=6, color="#777", family="Liberation Sans"),
                 row=5, col=1)

shapes = []
line_col = "#d6d6d6"
for k in range(6):
    y = ROW_TOP + ROW_H * k
    shapes.append(dict(type="line", xref="paper", yref="paper", x0=0, x1=1,
                       y0=py(y), y1=py(y), line=dict(color=line_col, width=1)))
for s in year_start + [n_weeks]:
    shapes.append(dict(type="line", xref="x", yref="paper", x0=s - 0.5, x1=s - 0.5,
                       y0=py(470), y1=py(30), line=dict(color=line_col, width=1)))

annotations = []
# titles
title_font = dict(family="Liberation Serif", size=21, color="#2c4f63")
annotations.append(dict(text="<b>Influenza circulation by subregion, 2014-18</b>",
                        x=px(10), y=py(17), xref="paper", yref="paper",
                        xanchor="left", yanchor="middle", showarrow=False, font=title_font))
annotations.append(dict(text="<b>Circulación de virus influenza por subregión, 2014-18</b>",
                        x=px(958), y=py(17), xref="paper", yref="paper",
                        xanchor="right", yanchor="middle", showarrow=False, font=title_font))
# year headers
for yr, s, n in zip(years, year_start, weeks_per_year):
    annotations.append(dict(text=yr, x=s + n / 2 - 0.5, y=py(39), xref="x", yref="paper",
                            showarrow=False, xanchor="center", yanchor="middle",
                            font=dict(size=6, color="#555", family="Liberation Sans")))
# row labels and axis titles
for r, lab in enumerate(region_labels):
    cy = ROW_TOP + ROW_H * r + ROW_H / 2
    annotations.append(dict(text="<b>" + lab + "</b>", x=px(41), y=py(cy - 2),
                            xref="paper", yref="paper", showarrow=False,
                            xanchor="center", yanchor="middle", align="center",
                            font=dict(size=7.5, color="#333", family="Liberation Sans")))
    annotations.append(dict(text="Number cases/ Número<br>casos", x=px(88), y=py(cy),
                            xref="paper", yref="paper", showarrow=False, textangle=-90,
                            xanchor="center", yanchor="middle", align="center",
                            font=dict(size=6.5, color="#8a8a8a", family="Liberation Sans")))
    annotations.append(dict(text="% influenza (+)", x=px(950), y=py(cy - 6),
                            xref="paper", yref="paper", showarrow=False, textangle=90,
                            xanchor="center", yanchor="middle",
                            font=dict(size=6.5, color="#777", family="Liberation Sans")))
# footnote
for txt, y in [("Please note that the flu (+) % line is computed with a 5 week average.", 478),
               ("Tenga en cuenta que la línea de flu (+) % se calcula con un promedio de 5 semanas.", 488)]:
    annotations.append(dict(text=txt, x=px(482), y=py(y), xref="paper", yref="paper",
                            showarrow=False, xanchor="center", yanchor="middle",
                            font=dict(size=5.5, color="#555", family="Liberation Sans")))
# legend
annotations.append(dict(text="<b>Influenza viruses/<br>Virus influenza</b>", x=px(478), y=py(531),
                        xref="paper", yref="paper", showarrow=False, xanchor="center",
                        yanchor="middle", align="center",
                        font=dict(size=8, color="#333", family="DejaVu Sans")))
for k, (key, lab) in enumerate(zip(legend_keys, virus_labels)):
    yc = 553 + 17.2 * k
    shapes.append(dict(type="rect", xref="paper", yref="paper",
                       x0=px(392), x1=px(408), y0=py(yc + 5), y1=py(yc - 5),
                       fillcolor=colors[key], line=dict(color="#8a8a8a", width=1)))
    annotations.append(dict(text=lab, x=px(417), y=py(yc), xref="paper", yref="paper",
                            showarrow=False, xanchor="left", yanchor="middle",
                            font=dict(size=7.5, color="#555", family="DejaVu Sans")))

fig.update_layout(
    width=W, height=H,
    margin=dict(l=0, r=0, t=0, b=0),
    barmode="stack", bargap=0.08,
    plot_bgcolor="white", paper_bgcolor="white",
    showlegend=False,
    shapes=shapes,
    annotations=annotations,
)

fig.write_html("out.html", config={"displayModeBar": False},
               post_script="document.body.style.margin='0px';")
